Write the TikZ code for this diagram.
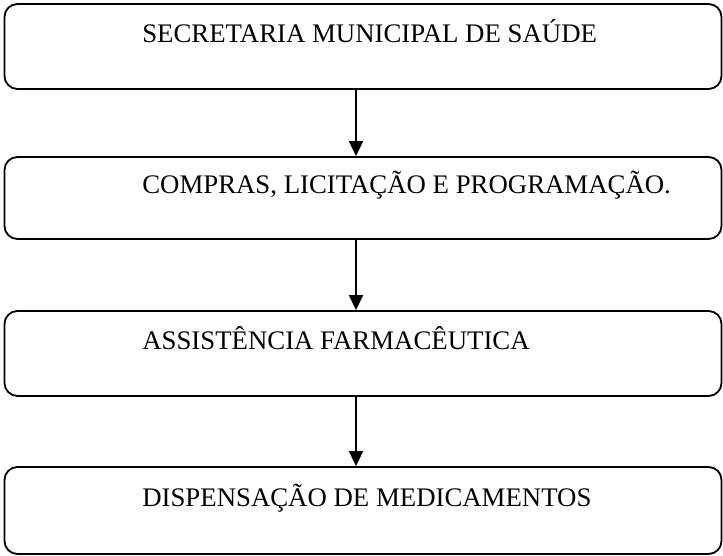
\documentclass[tikz,border=0pt]{standalone}
\usepackage{fontspec}
\setmainfont{Liberation Serif}
\usetikzlibrary{arrows.meta}
\tikzset{
  etapa/.style={draw, line width=1.8pt, rounded corners=13pt, minimum width=717pt, inner sep=0pt},
  rotulo/.style={anchor=base west, xshift=138.5pt, yshift=4pt, inner sep=0pt, font=\fontsize{26.8}{32}\selectfont},
  fluxo/.style={-{Triangle[width=14pt,length=15pt]}, line width=1.8pt}
}
\begin{document}
\begin{tikzpicture}[x=1pt, y=1pt, line join=round]
	\useasboundingbox (0,0) rectangle (723,556);
	\node[etapa, minimum height=85pt, label={[rotulo]west:SECRETARIA MUNICIPAL DE SAÚDE}] (sms) at (363,509.5) {};
	\node[etapa, minimum height=82pt, label={[rotulo]west:COMPRAS, LICITAÇÃO E PROGRAMAÇÃO.}] (compras) at (363,358) {};
	\node[etapa, minimum height=85pt, label={[rotulo]west:ASSISTÊNCIA FARMACÊUTICA}] (af) at (363,202.5) {};
	\node[etapa, minimum height=87pt, label={[rotulo]west:DISPENSAÇÃO DE MEDICAMENTOS}] (disp) at (363,45.5) {};
	\draw[fluxo]([xshift=-7pt]sms.south)--([xshift=-7pt]compras.north);
	\draw[fluxo]([xshift=-7pt]compras.south)--([xshift=-7pt]af.north);
	\draw[fluxo]([xshift=-7pt]af.south)--([xshift=-7pt]disp.north);
\end{tikzpicture}
\end{document}
